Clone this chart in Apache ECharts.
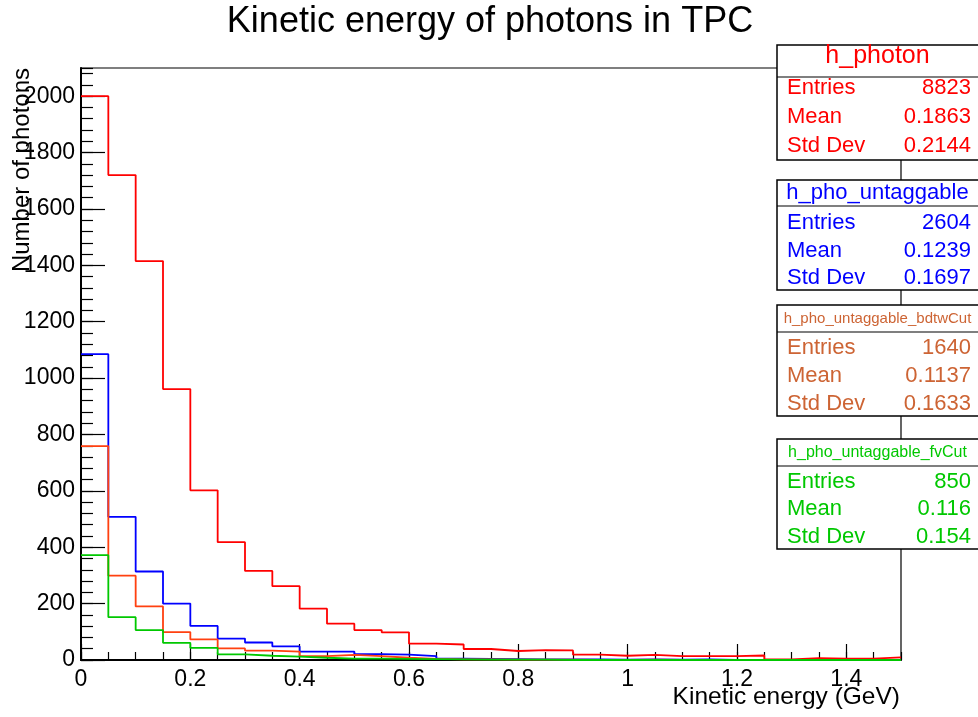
<!DOCTYPE html>
<html>
<head>
<meta charset="utf-8">
<script src="https://cdn.jsdelivr.net/npm/echarts@6/dist/echarts.min.js"></script>
<style>
  html, body { margin: 0; padding: 0; background: #fff; }
  #chart { width: 978px; height: 717px; }
</style>
</head>
<body>
<div id="chart"></div>
<script>
// Histogram binning: 30 bins of 0.05 GeV from 0 to 1.5 GeV
const binEdges = [0, 0.05, 0.1, 0.15, 0.2, 0.25, 0.3, 0.35, 0.4, 0.45, 0.5, 0.55, 0.6, 0.65, 0.7,
  0.75, 0.8, 0.85, 0.9, 0.95, 1.0, 1.05, 1.1, 1.15, 1.2, 1.25, 1.3, 1.35, 1.4, 1.45, 1.5];

// Bin contents per histogram
const hPhoton = [2000, 1720, 1415, 961, 602, 418, 316, 262, 182, 129, 106, 98, 58, 55, 39,
  32, 35, 34, 19, 15, 18, 14, 14, 14, 16, 2, 7, 5, 5, 9];
const hUntaggable = [1085, 508, 314, 200, 121, 76, 62, 48, 30, 30, 21, 19, 14, 5, 4,
  3, 2, 2, 2, 1, 2, 1, 2, 0, 0, 0, 0, 0, 0, 0];
const hBdtwCut = [759, 299, 190, 99, 73, 41, 33, 30, 14, 18, 14, 8, 4, 2, 2,
  1, 1, 1, 0, 0, 1, 0, 0, 0, 0, 0, 0, 0, 0, 0];
const hFvCut = [372, 152, 106, 61, 43, 20, 15, 12, 8, 5, 5, 4, 3, 2, 1,
  1, 1, 0, 0, 0, 0, 0, 0, 0, 0, 0, 0, 0, 0, 0];

// Statistics boxes
const statNames = ['h_photon', 'h_pho_untaggable', 'h_pho_untaggable_bdtwCut', 'h_pho_untaggable_fvCut'];
const statEntries = ['8823', '2604', '1640', '850'];
const statMeans = ['0.1863', '0.1239', '0.1137', '0.116'];
const statStdDevs = ['0.2144', '0.1697', '0.1633', '0.154'];
const statRowLabels = ['Entries', 'Mean', 'Std Dev'];

// Axis tick labels
const xTickLabels = ['0', '0.2', '0.4', '0.6', '0.8', '1', '1.2', '1.4'];
const yTickLabels = ['0', '200', '400', '600', '800', '1000', '1200', '1400', '1600', '1800', '2000'];

const seriesColors = ['#ff0000', '#0000ff', '#ff4010', '#00c800'];
const textColors = ['#ff0000', '#0000ff', '#cd6434', '#00c800'];
const FONT = 'Liberation Sans, Arial, sans-serif';

function stepData(values) {
  const pts = values.map((v, i) => [binEdges[i], v]);
  pts.push([binEdges[binEdges.length - 1], values[values.length - 1]]);
  return pts;
}

// Stats box geometry
const boxLeft = 777, boxWidth = 230, textLeft = 787, textRight = 971;
const boxTop = [45, 180, 305, 439];
const boxDivider = [77, 206, 332, 466];
const boxBottom = [160, 290, 416, 549];
const titleY = [56, 193, 319, 452.5];
const titleSize = [25, 22, 15, 16];
const rowY = [[88, 117, 146], [222.5, 250.8, 278], [347.5, 375.8, 404], [481.5, 509, 536.5]];

const graphics = [];
statNames.forEach((name, b) => {
  graphics.push({
    type: 'rect', z: 100,
    shape: { x: boxLeft, y: boxTop[b], width: boxWidth, height: boxBottom[b] - boxTop[b] },
    style: { fill: '#fff', stroke: '#000', lineWidth: 1.5 }
  });
  graphics.push({
    type: 'line', z: 101,
    shape: { x1: boxLeft, y1: boxDivider[b], x2: boxLeft + boxWidth, y2: boxDivider[b] },
    style: { stroke: '#000', lineWidth: 1.2 }
  });
  graphics.push({
    type: 'text', z: 102, x: (boxLeft + 978) / 2, y: titleY[b],
    style: { text: name, fill: textColors[b], font: titleSize[b] + 'px ' + FONT, align: 'center', verticalAlign: 'middle' }
  });
  const vals = [statEntries[b], statMeans[b], statStdDevs[b]];
  statRowLabels.forEach((lab, r) => {
    graphics.push({
      type: 'text', z: 102, x: textLeft, y: rowY[b][r],
      style: { text: lab, fill: textColors[b], font: '22px ' + FONT, align: 'left', verticalAlign: 'middle' }
    });
    graphics.push({
      type: 'text', z: 102, x: textRight, y: rowY[b][r],
      style: { text: vals[r], fill: textColors[b], font: '22px ' + FONT, align: 'right', verticalAlign: 'middle' }
    });
  });
});

// Axis titles and main title
graphics.push({
  type: 'text', z: 50, x: 900, y: 697,
  style: { text: 'Kinetic energy (GeV)', fill: '#000', font: '24.5px ' + FONT, align: 'right', verticalAlign: 'middle' }
});
graphics.push({
  type: 'text', z: 50, x: 22, y: 68, rotation: Math.PI / 2,
  style: { text: 'Number of photons', fill: '#000', font: '24px ' + FONT, align: 'right', verticalAlign: 'middle' }
});
graphics.push({
  type: 'text', z: 50, x: 490, y: 22,
  style: { text: 'Kinetic energy of photons in TPC', fill: '#000', font: '36px ' + FONT, align: 'center', verticalAlign: 'middle' }
});

const chart = echarts.init(document.getElementById('chart'), null, { renderer: 'canvas' });

const labelFont = { color: '#000', fontSize: 23, fontFamily: FONT };

chart.setOption({
  animation: false,
  backgroundColor: '#fff',
  grid: { left: 81, right: 77, top: 68, bottom: 57, show: true, borderColor: '#000', borderWidth: 1.2, backgroundColor: 'transparent' },
  xAxis: [
    {
      type: 'value', min: 0, max: 1.5, interval: 0.2, position: 'bottom',
      axisLine: { show: true, lineStyle: { color: '#000', width: 2 } },
      axisTick: { show: true, inside: true, length: 16, lineStyle: { color: '#000', width: 1.2 } },
      axisLabel: Object.assign({ margin: 8, showMaxLabel: false,
        formatter: v => { const i = Math.round(v / 0.2); return Math.abs(v - i * 0.2) < 1e-6 ? (xTickLabels[i] || '') : ''; } }, labelFont),
      splitLine: { show: false }
    },
    {
      type: 'value', min: 0, max: 1.5, interval: 0.05, position: 'bottom',
      axisLine: { show: false },
      axisTick: { show: true, inside: true, length: 8, lineStyle: { color: '#000', width: 1.2 } },
      axisLabel: { show: false },
      splitLine: { show: false }
    }
  ],
  yAxis: [
    {
      type: 'value', min: 0, max: 2100, interval: 200, position: 'left',
      axisLine: { show: true, lineStyle: { color: '#000', width: 2 } },
      axisTick: { show: true, inside: true, length: 24, lineStyle: { color: '#000', width: 1.2 } },
      axisLabel: Object.assign({ margin: 6, showMaxLabel: false,
        formatter: v => { const i = Math.round(v / 200); return Math.abs(v - i * 200) < 1e-6 ? (yTickLabels[i] || '') : ''; } }, labelFont),
      splitLine: { show: false }
    },
    {
      type: 'value', min: 0, max: 2100, interval: 40, position: 'left',
      axisLine: { show: false },
      axisTick: { show: true, inside: true, length: 12, lineStyle: { color: '#000', width: 1.2 } },
      axisLabel: { show: false },
      splitLine: { show: false }
    }
  ],
  series: [hPhoton, hUntaggable, hBdtwCut, hFvCut].map((vals, k) => ({
    type: 'line', step: 'end', symbol: 'none', xAxisIndex: 0, yAxisIndex: 0,
    data: stepData(vals), z: 10 + k,
    lineStyle: { color: seriesColors[k], width: 1.8 }
  })),
  graphic: graphics
});
</script>
</body>
</html>
